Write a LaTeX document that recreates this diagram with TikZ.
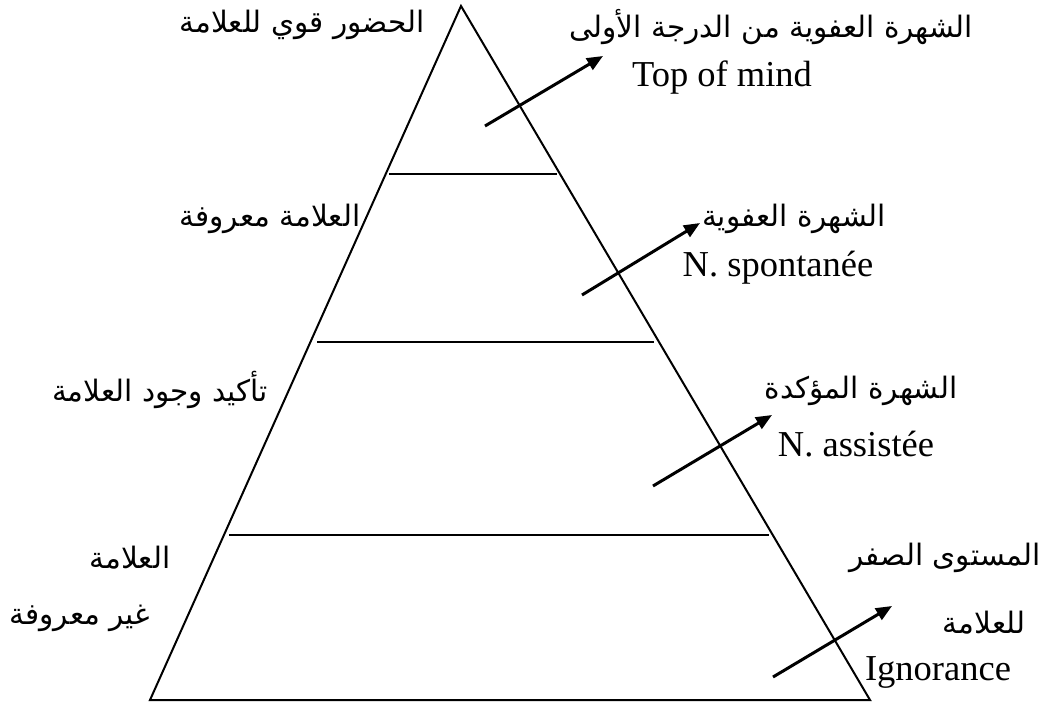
\documentclass[tikz,border=0pt]{standalone}
\usepackage{fontspec}
\setmainfont{Liberation Serif}
\newfontfamily\arabicfont[Script=Arabic]{DejaVu Sans}
\TeXXeTstate=1
\usetikzlibrary{arrows.meta}
\newcommand{\artxt}[1]{{\arabicfont\beginR #1\endR}}

\begin{document}
\begin{tikzpicture}[x=1pt,y=-1pt,
    edge/.style={line width=2pt},
    lvl/.style={line width=2pt},
    pointer/.style={line width=3pt, -{Triangle[length=16pt,width=13pt]}},
    lbl/.style={inner sep=0pt, font=\fontsize{29.5}{36}\selectfont},
    latin/.style={inner sep=0pt, font=\fontsize{36.5}{42}\selectfont}]

    \useasboundingbox (0,0) rectangle (1048,707);

    % Pyramid
    \coordinate (A) at (461,6);
    \coordinate (BL) at (150,700);
    \coordinate (BR) at (870,700);
    \draw[edge] (A) -- (BL) -- (BR) -- cycle;

    % Levels
    \coordinate (L1a) at (389,174);
    \coordinate (L1b) at (557,174);
    \coordinate (L2a) at (317,342);
    \coordinate (L2b) at (654,342);
    \coordinate (L3a) at (229,535);
    \coordinate (L3b) at (769,535);
    \draw[lvl] (L1a) -- (L1b);
    \draw[lvl] (L2a) -- (L2b);
    \draw[lvl] (L3a) -- (L3b);

    % Left labels
    \node[lbl] (presence) at (302,25) {\artxt{الحضور قوي للعلامة}};
    \node[lbl] (known) at (270,219) {\artxt{العلامة معروفة}};
    \node[lbl] (exist) at (160,390) {\artxt{تأكيد وجود العلامة}};
    \node[lbl] (brand) at (130,558) {\artxt{العلامة}};
    \node[lbl] (unknown) at (80,618) {\artxt{غير معروفة}};

    % Right labels
    \node[lbl] (first) at (771,27) {\artxt{الشهرة العفوية من الدرجة الأولى}};
    \node[latin] (top) at (722,78) {Top of mind};
    \node[lbl] (spont) at (794,219) {\artxt{الشهرة العفوية}};
    \node[latin] (spontfr) at (778,268) {N. spontanée};
    \node[lbl] (assist) at (861,391) {\artxt{الشهرة المؤكدة}};
    \node[latin] (assistfr) at (856,444) {N. assistée};
    \node[lbl] (zero) at (945,558) {\artxt{المستوى الصفر}};
    \node[lbl] (forbrand) at (984,623) {\artxt{للعلامة}};
    \node[latin] (ignor) at (938,672) {Ignorance};

    % Arrows
    \coordinate (P1) at (485,126);
    \coordinate (Q1) at (603,56);
    \coordinate (P2) at (582,295);
    \coordinate (Q2) at (700,223);
    \coordinate (P3) at (653,486);
    \coordinate (Q3) at (772,415);
    \coordinate (P4) at (773,677);
    \coordinate (Q4) at (892,606);
    \draw[pointer] (P1) -- (Q1);
    \draw[pointer] (P2) -- (Q2);
    \draw[pointer] (P3) -- (Q3);
    \draw[pointer] (P4) -- (Q4);

\end{tikzpicture}
\end{document}
